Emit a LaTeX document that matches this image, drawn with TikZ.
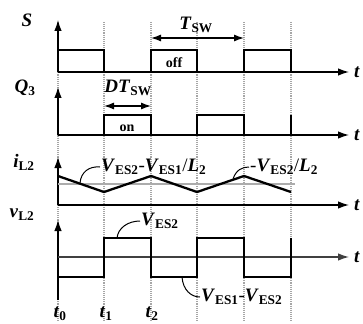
\documentclass[tikz,border=0pt]{standalone}
\usepackage{fontspec}
\setmainfont{Liberation Serif}
\usetikzlibrary{arrows.meta,positioning,calc}
\newcommand{\wsym}[2]{\textbf{\textit{#1}}\textsubscript{\textbf{#2}}}

\begin{document}
\begin{tikzpicture}[x=1pt,y=-1pt,font=\fontsize{19}{21}\selectfont,
  axis/.style={line width=1.3pt,-{Latex[length=11pt,width=7.5pt]}},
  wave/.style={line width=2.3pt,line join=miter},
  gridln/.style={gray!70,densely dotted,line width=1.1pt},
  leader/.style={line width=1pt},
  dim/.style={line width=1.2pt,{Latex[length=10pt,width=7pt]}-{Latex[length=10pt,width=7pt]}},
  lbl/.style={inner sep=1pt},
  tag/.style={inner sep=1pt,font=\fontsize{14}{16}\selectfont\bfseries}]
  \useasboundingbox (0,0) rectangle (363,323);
  % time grid
  \foreach \x in {58,104,151,197,244,291} \draw[gridln] (\x,22) -- (\x,322);
  % axes
  \foreach \yb/\yt in {72/20,135/87,205/157,300/220} \draw[axis] (58,\yb) -- (58,\yt);
  \foreach \y/\n in {72/tS,135/tQ,205/tI} {
    \draw[axis] (58,\y) -- (349,\y);
    \node[lbl,anchor=west] (\n) at (353,\y) {\textbf{\textit{t}}};
  }
  \draw[axis,black!75] (58,257) -- (349,257);
  \node[lbl,anchor=west] (tV) at (353,257) {\textbf{\textit{t}}};
  % waveforms
  \draw[wave] (58,72) -- (58,50) -- (104,50) -- (104,72) -- (151,72) -- (151,50) -- (197,50) -- (197,72)
    -- (244,72) -- (244,50) -- (291,50) -- (291,72);
  \draw[wave] (58,135) -- (104,135) -- (104,115) -- (151,115) -- (151,135) -- (197,135) -- (197,115)
    -- (244,115) -- (244,135) -- (291,135) -- (291,115);
  \draw[gray!65,line width=2.2pt] (58,184) -- (295,184);
  \draw[wave] (58,176) -- (104,192) -- (151,176) -- (197,192) -- (244,176) -- (291,192);
  \draw[wave] (58,277) -- (104,277) -- (104,238) -- (151,238) -- (151,277) -- (197,277) -- (197,238)
    -- (244,238) -- (244,277) -- (291,277) -- (291,238);
  % signal names
  \node[lbl] (lS) at (27,20) {\textbf{\textit{S}}};
  \node[lbl] (lQ) at (25,88) {\wsym{Q}{3}};
  \node[lbl] (lI) at (24,162) {\wsym{i}{L2}};
  \node[lbl] (lV) at (22,215) {\wsym{v}{L2}};
  % period and duty
  \coordinate (tsa) at (151,38); \coordinate (tsb) at (244,38);
  \draw[dim] (tsa) -- (tsb);
  \node[lbl] (lT) at (196,25) {\wsym{T}{SW}};
  \coordinate (dta) at (104,106); \coordinate (dtb) at (151,106);
  \draw[dim] (dta) -- (dtb);
  \node[lbl] (lD) at (128,88) {\wsym{DT}{SW}};
  \node[tag] (off) at (174,63) {off};
  \node[tag] (on) at (127,128) {on};
  % slopes and levels
  \node[lbl,anchor=west] (sA) at (100,167) {\wsym{V}{ES2}-\wsym{V}{ES1}/\wsym{L}{2}};
  \coordinate (pA) at (80,183);
  \draw[leader] (pA) .. controls (81,172) and (89,166) .. (sA.west);
  \node[lbl,anchor=west] (sB) at (249,167) {-\wsym{V}{ES2}/\wsym{L}{2}};
  \coordinate (pB) at (233,179);
  \draw[leader] (pB) .. controls (236,170) and (242,167) .. (sB.west);
  \node[lbl,anchor=west] (lC) at (140,221) {\wsym{V}{ES2}};
  \coordinate (pC) at (117,238);
  \draw[leader] (pC) .. controls (118,228) and (128,221) .. (lC.west);
  \node[lbl,anchor=west] (lE) at (200,297) {\wsym{V}{ES1}-\wsym{V}{ES2}};
  \coordinate (pE) at (182,277);
  \draw[leader] (pE) .. controls (183,290) and (191,297) .. (lE.west);
  % instants
  \node[lbl] (t0) at (60,314) {\wsym{t}{0}};
  \node[lbl] (t1) at (106,314) {\wsym{t}{1}};
  \node[lbl] (t2) at (152,314) {\wsym{t}{2}};
\end{tikzpicture}
\end{document}
